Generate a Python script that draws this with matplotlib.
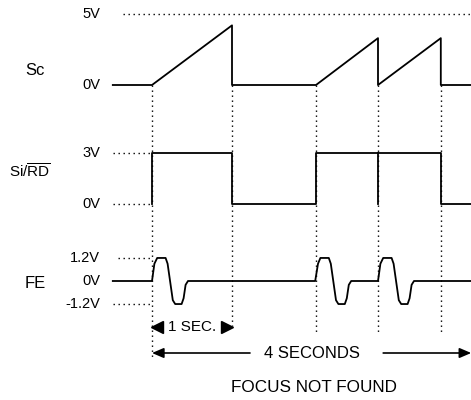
import matplotlib
matplotlib.use("Agg")
import matplotlib.pyplot as plt
from matplotlib import font_manager as fm

names = {f.name for f in fm.fontManager.ttflist}
FAM = ['Liberation Sans Narrow', 'DejaVu Sans'] if 'Liberation Sans Narrow' in names else ['Liberation Sans', 'DejaVu Sans']
plt.rcParams['font.family'] = FAM
plt.rcParams['mathtext.fontset'] = 'custom'
plt.rcParams['mathtext.rm'] = FAM[0]

# ---- data (time in seconds, voltages in V) ----
sc_t = [-0.49, 0.0, 1.0, 1.0, 2.05, 2.825, 2.825, 3.61, 3.61, 4.0]
sc_v = [0.0, 0.0, 4.2, 0.0, 0.0, 3.3, 0.0, 3.3, 0.0, 0.0]

si_t = [0.0, 0.0, 1.0, 1.0, 2.05, 2.05, 3.61, 3.61, 4.0]
si_v = [0.0, 3.0, 3.0, 0.0, 0.0, 3.0, 3.0, 0.0, 0.0]
si_mark_t = [2.825, 2.825]
si_mark_v = [0.0, 3.0]

fe_t = [-0.49, 0.0, 0.03, 0.065, 0.17, 0.195, 0.26, 0.29, 0.37, 0.395, 0.42, 0.45,
        2.04, 2.075, 2.105, 2.21, 2.235, 2.3, 2.33, 2.41, 2.435, 2.46, 2.49,
        2.825, 2.855, 2.89, 2.995, 3.02, 3.085, 3.115, 3.195, 3.22, 3.245, 3.275, 4.0]
fe_v = [0.0, 0.0, 0.9, 1.2, 1.2, 0.9, -1.0, -1.2, -1.2, -0.9, -0.2, 0.0,
        0.0, 0.9, 1.2, 1.2, 0.9, -1.0, -1.2, -1.2, -0.9, -0.2, 0.0,
        0.0, 0.9, 1.2, 1.2, 0.9, -1.0, -1.2, -1.2, -0.9, -0.2, 0.0, 0.0]

edge_times = [0.0, 1.0, 2.05, 2.825, 3.61]

sc_levels = ["5V", "0V"]
si_levels = ["3V", "0V"]
fe_levels = ["1.2V", "0V", "-1.2V"]

# ---- layout ----
W, H = 471, 400
fig = plt.figure(figsize=(W / 100, H / 100), dpi=100)
X0PX, PXS = 152.0, 80.0
xlim = ((0 - X0PX) / PXS, (W - X0PX) / PXS)


def make_ax(y0, k):
    ax = fig.add_axes([0, 0, 1, 1])
    ax.set_xlim(*xlim)
    ax.set_ylim((y0 - H) / k, y0 / k)
    ax.axis('off')
    ax.patch.set_alpha(0)
    return ax, k


ax_sc, k_sc = make_ax(85, 14.2)
ax_si, k_si = make_ax(204, 17.0)
ax_fe, k_fe = make_ax(281, 19.2)

LW = 1.3
DOT = dict(color='black', lw=1.0, linestyle=(0, (1, 2.6)))
LFS = 10.5
lab_x = -0.65

# Sc
ax_sc.plot(sc_t, sc_v, color='black', lw=LW)
ax_sc.plot([-0.36, 4.0], [5, 5], **DOT)
ax_sc.text(lab_x, 5, sc_levels[0], ha='right', va='center', fontsize=LFS)
ax_sc.text(lab_x, 0, sc_levels[1], ha='right', va='center', fontsize=LFS)
ax_sc.text(-1.46, 1.05, "Sc", ha='center', va='center', fontsize=12)

# Si/RD
ax_si.plot(si_t, si_v, color='black', lw=LW)
ax_si.plot(si_mark_t, si_mark_v, color='black', lw=LW)
ax_si.plot([-0.49, 0.0], [3, 3], **DOT)
ax_si.plot([-0.49, 0.0], [0, 0], **DOT)
ax_si.text(lab_x, 3, si_levels[0], ha='right', va='center', fontsize=LFS)
ax_si.text(lab_x, 0, si_levels[1], ha='right', va='center', fontsize=LFS)
ax_si.text(-1.53, 1.9, r"Si/$\overline{\mathrm{RD}}$", ha='center', va='center', fontsize=11)

# FE
ax_fe.plot(fe_t, fe_v, color='black', lw=LW)
ax_fe.plot([-0.42, 0.0], [1.2, 1.2], **DOT)
ax_fe.plot([-0.49, 0.0], [-1.2, -1.2], **DOT)
ax_fe.text(lab_x, 1.2, fe_levels[0], ha='right', va='center', fontsize=LFS)
ax_fe.text(lab_x, 0, fe_levels[1], ha='right', va='center', fontsize=LFS)
ax_fe.text(lab_x, -1.2, fe_levels[2], ha='right', va='center', fontsize=LFS)
ax_fe.text(-1.46, -0.15, "FE", ha='center', va='center', fontsize=12)

# vertical dotted guides (drawn in Sc coordinates)
bottoms_px = [360, 326, 332, 332, 332]
for t, bpx in zip(edge_times, bottoms_px):
    ax_sc.plot([t, t], [0, (85 - bpx) / k_sc], **DOT)

# annotations (FE coordinates)
y1 = (281 - 327) / k_fe
ax_fe.plot([0.065], [y1], marker='<', color='black', markersize=8, linestyle='none')
ax_fe.plot([0.935], [y1], marker='>', color='black', markersize=8, linestyle='none')
ax_fe.text(0.5, y1, "1 SEC.", ha='center', va='center', fontsize=11)

y2 = (281 - 353) / k_fe
ax_fe.annotate('', xy=(0.0, y2), xytext=(1.225, y2),
               arrowprops=dict(arrowstyle='-|>,head_length=0.7,head_width=0.3', color='black', lw=1.2,
                               shrinkA=0, shrinkB=0))
ax_fe.annotate('', xy=(3.99, y2), xytext=(2.89, y2),
               arrowprops=dict(arrowstyle='-|>,head_length=0.7,head_width=0.3', color='black', lw=1.2,
                               shrinkA=0, shrinkB=0))
ax_fe.text(2.0, y2, "4 SECONDS", ha='center', va='center', fontsize=12)

y3 = (281 - 387) / k_fe
ax_fe.text(2.02, y3, "FOCUS NOT FOUND", ha='center', va='center', fontsize=12.3)

fig.savefig("out.png", dpi=100)
